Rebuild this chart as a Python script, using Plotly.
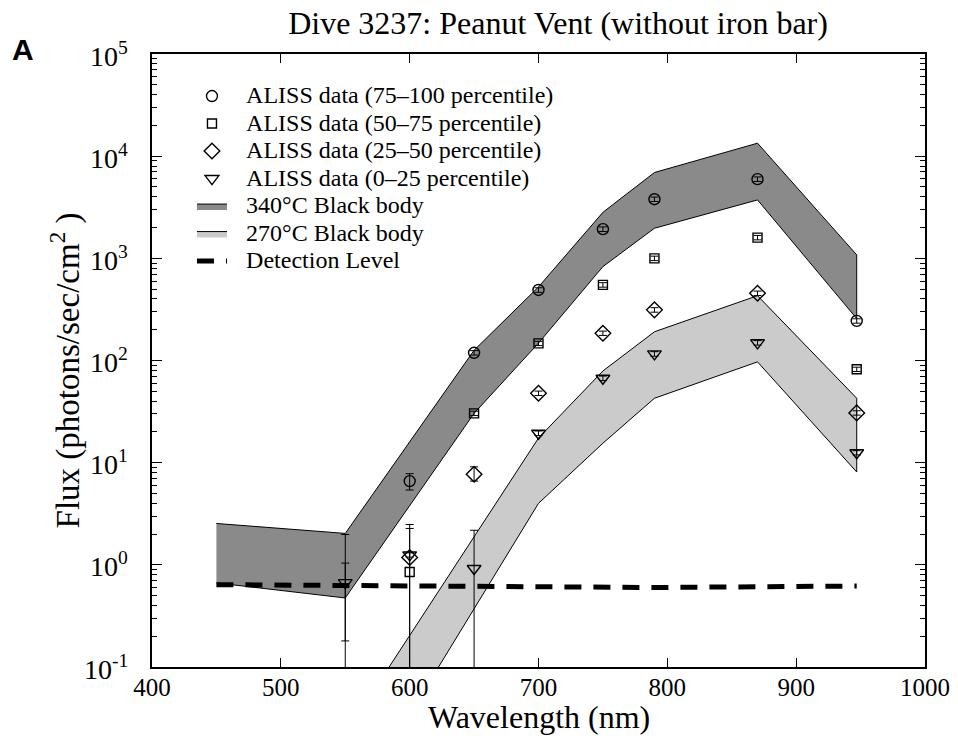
import math
import plotly.graph_objects as go

# ---------------- data ----------------
circ_wl = [600, 650, 700, 750, 790, 870, 947]
circ_val = [6.6, 119, 490, 1930, 3790, 5960, 244]
circ_ep = [1.2, 6, 25, 100, 190, 300, 12]
circ_em = [1.2, 6, 25, 100, 190, 300, 12]

sq_wl = [600, 650, 700, 750, 790, 870, 947]
sq_val = [0.85, 30.4, 147, 550, 1000, 1596, 82]
sq_ep = [1.63, 1.5, 7, 28, 50, 80, 4]
sq_em = [0.849, 1.5, 7, 28, 50, 80, 4]

dia_wl = [600, 650, 700, 750, 790, 870, 947]
dia_val = [1.18, 7.7, 47.8, 185, 313, 455, 30.7]
dia_ep = [1.09, 1.4, 2.4, 9, 16, 23, 1.5]
dia_em = [1.179, 1.1, 2.4, 9, 16, 23, 1.5]

tri_wl = [550, 600, 650, 700, 750, 790, 870, 947]
tri_val = [0.67, 1.25, 0.92, 19.4, 67, 116, 149, 12.5]
tri_ep = [1.31, 0.06, 1.26, 1.0, 3.4, 6, 7.5, 0.6]
tri_em = [0.49, 0.06, 0.919, 1.0, 3.4, 6, 7.5, 0.6]

# extra error bar at 550 nm (marker below plotted range)
extra_wl = [550]
extra_val = [0.3]
extra_ep = [0.74]
extra_em = [0.2999]

bb340_wl = [450, 550, 650, 700, 750, 790, 870, 947]
bb340_hi = [2.54, 2.03, 126, 525, 2820, 6920, 13400, 1080]
bb340_lo = [0.665, 0.474, 30.4, 148, 830, 1970, 3730, 257]

bb270_wl = [550, 650, 700, 750, 790, 870, 947]
bb270_hi = [0.022, 1.88, 17.4, 79, 191, 431, 42.7]
bb270_lo = [0.0032, 0.36, 4.0, 15.5, 42.7, 97, 8.1]

det_wl = [450, 550, 600, 650, 700, 750, 790, 870, 947]
det_val = [0.64, 0.63, 0.63, 0.62, 0.62, 0.61, 0.60, 0.61, 0.62]

x_ticks = [400, 500, 600, 700, 800, 900, 1000]
y_tickvals = [0.1, 1, 10, 100, 1000, 10000, 100000]
y_ticktext = ["10<sup>-1</sup>", "10<sup>0</sup>", "10<sup>1</sup>", "10<sup>2</sup>",
              "10<sup>3</sup>", "10<sup>4</sup>", "10<sup>5</sup>"]

SERIF = "Liberation Serif, Times New Roman, serif"
PAD = "&nbsp;&nbsp;&nbsp;"


def lg(t):
    return PAD + '<span style="font-size:24px">' + t + "</span>"


fig = go.Figure()

# black body bands
fig.add_trace(go.Scatter(
    x=bb340_wl + bb340_wl[::-1], y=bb340_hi + bb340_lo[::-1],
    fill="toself", fillcolor="#8a8a8a", mode="lines",
    line=dict(color="black", width=1),
    name=lg("340°C Black body"), legendrank=5))
fig.add_trace(go.Scatter(
    x=bb270_wl + bb270_wl[::-1], y=bb270_hi + bb270_lo[::-1],
    fill="toself", fillcolor="#cbcbcb", mode="lines",
    line=dict(color="black", width=1),
    name=lg("270°C Black body"), legendrank=6))

# detection level
fig.add_trace(go.Scatter(
    x=det_wl, y=det_val, mode="lines",
    line=dict(color="black", width=5, dash="17px,12px"),
    name=lg("Detection Level"), legendrank=7))


def pts(wl, val, ep, em, sym, size, name, rank, show=True, opacity=1):
    fig.add_trace(go.Scatter(
        x=wl, y=val, mode="markers", name=name, legendrank=rank,
        showlegend=show,
        marker=dict(symbol=sym, size=size, color="black", opacity=opacity,
                    line=dict(color="black", width=1.4)),
        error_y=dict(type="data", symmetric=False, array=ep, arrayminus=em,
                     color="black", thickness=1, width=4)))


pts(circ_wl, circ_val, circ_ep, circ_em, "circle-open", 11, lg("ALISS data (75–100 percentile)"), 1)
pts(sq_wl, sq_val, sq_ep, sq_em, "square-open", 9, lg("ALISS data (50–75 percentile)"), 2)
pts(dia_wl, dia_val, dia_ep, dia_em, "diamond-open", 12, lg("ALISS data (25–50 percentile)"), 3)
pts(tri_wl, tri_val, tri_ep, tri_em, "triangle-down-open", 12, lg("ALISS data (0–25 percentile)"), 4)
pts(extra_wl, extra_val, extra_ep, extra_em, "circle-open", 1, "extra", 99, show=False, opacity=0)

axis_common = dict(showline=True, linecolor="black", linewidth=2, mirror="allticks",
                   ticks="inside", tickcolor="black", showgrid=False, zeroline=False,
                   automargin=False)

fig.update_layout(
    width=958, height=739,
    margin=dict(l=152, r=33, t=54.3, b=72.3, autoexpand=False),
    paper_bgcolor="white", plot_bgcolor="white",
    font=dict(family=SERIF, color="black", size=18),
    title=dict(text="Dive 3237: Peanut Vent (without iron bar)", x=0.5825, xanchor="center",
               xref="container", y=0.9686, yanchor="middle", yref="container",
               font=dict(family=SERIF, size=32)),
    xaxis=dict(range=[400, 1000], tickvals=x_ticks, ticklen=9, ticklabeloverflow="allow",
               ticklabelstandoff=-3,
               tickfont=dict(family=SERIF, size=25), **axis_common),
    yaxis=dict(type="log", range=[-1, 5], tickvals=y_tickvals, ticklen=10,
               showticklabels=False,
               minor=dict(ticks="inside", ticklen=5, tickcolor="black", dtick="D1", showgrid=False),
               **axis_common),
    legend=dict(x=0.0517, y=0.962, xanchor="left", yanchor="top", bgcolor="rgba(0,0,0,0)",
                font=dict(family=SERIF, size=18.85), itemwidth=30, tracegroupgap=0),
)

# y tick labels (placed at the tick values)
for v, t in zip(y_tickvals, y_ticktext):
    fig.add_annotation(text=t, xref="paper", yref="y", x=-0.0285, y=math.log10(v),
                       xanchor="right", yanchor="middle", showarrow=False,
                       font=dict(family=SERIF, size=28, color="black"))

fig.add_annotation(text="<b>A</b>", xref="paper", yref="paper", x=-0.167, y=1.007,
                   xanchor="center", yanchor="middle", showarrow=False,
                   font=dict(family="Liberation Sans, Arial, sans-serif", size=30, color="black"))
fig.add_annotation(text="Wavelength (nm)", xref="paper", yref="paper", x=0.5, y=-0.082,
                   xanchor="center", yanchor="middle", showarrow=False,
                   font=dict(family=SERIF, size=32, color="black"))
fig.add_annotation(text="Flux (photons/sec/cm<sup>2</sup> )", xref="paper", yref="paper",
                   x=-0.112, y=0.4845, textangle=-90,
                   xanchor="center", yanchor="middle", showarrow=False,
                   font=dict(family=SERIF, size=33, color="black"))

fig.write_html("out.html", config={"displayModeBar": False},
               post_script="document.body.style.margin='0px';")
